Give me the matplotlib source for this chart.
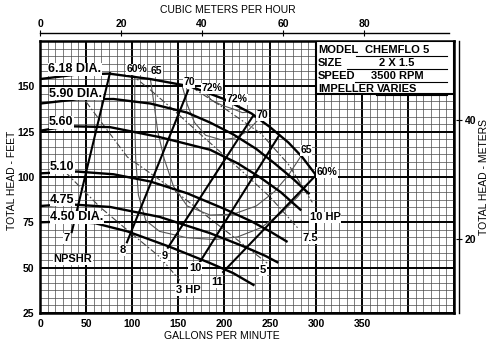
import matplotlib
matplotlib.use("Agg")
import matplotlib.pyplot as plt
from matplotlib.patches import Rectangle
from matplotlib.ticker import MultipleLocator

plt.rcParams['font.family'] = ['Liberation Sans', 'DejaVu Sans']

# head-capacity curves per impeller diameter (gpm, ft)
d618_q = [0, 40, 75, 120, 163, 200, 230, 250, 270, 285, 300]
d618_h = [154, 156.5, 157, 154, 150, 143, 135, 127.5, 119, 111, 101]
d590_q = [0, 40, 80, 120, 160, 185, 210, 235, 255, 275, 292]
d590_h = [140.5, 142.8, 143, 140.5, 135.5, 130, 123.5, 115.5, 107.5, 99, 91]
d560_q = [0, 30, 76, 130, 185, 215, 240, 262, 283]
d560_h = [125.5, 128, 127.5, 122, 115, 107.5, 99.5, 91.5, 82]
d510_q = [0, 40, 80, 120, 160, 200, 230, 250, 268]
d510_h = [102, 103, 101.5, 97.5, 91, 82.5, 75.5, 70, 64.5]
d475_q = [0, 30, 76, 130, 185, 220, 245, 258]
d475_h = [84, 85, 83.5, 78, 69, 62, 56.5, 53]
d450_q = [0, 30, 60, 95, 141, 185, 210, 232]
d450_h = [75, 75.5, 74.5, 70, 61.5, 52.5, 47, 40.5]
heads = [(d618_q, d618_h), (d590_q, d590_h), (d560_q, d560_h),
         (d510_q, d510_h), (d475_q, d475_h), (d450_q, d450_h)]

# NPSHR lines (ft), endpoints
npsh_q = [[34.5, 76], [94.5, 161], [139, 232], [174, 260], [199, 300]]
npsh_h = [[69.6, 157.3], [64, 147.8], [61, 134], [53.3, 123], [47.6, 101]]

# horsepower lines
hp3_q = [28, 65, 95, 130, 152]
hp3_h = [102.5, 83.5, 70.7, 56, 43]
hp5_q = [50, 95, 141, 190, 247]
hp5_h = [141.5, 111, 94.5, 75, 52.5]
hp75_q = [98, 120, 145, 180, 220, 250, 280]
hp75_h = [157, 148, 137, 121, 103, 89, 72]
hp10_q = [165, 200, 240, 270, 296]
hp10_h = [149.5, 138, 124, 107, 86]
hps = [(hp3_q, hp3_h), (hp5_q, hp5_h), (hp75_q, hp75_h), (hp10_q, hp10_h)]

# efficiency contours
e60_q = [103, 103, 104, 107, 115, 130, 160, 190, 215, 240, 262, 280, 299]
e60_h = [155.5, 130, 110, 90, 76, 70, 66.5, 65.5, 67, 72, 80, 89, 101]
e65_q = [120, 124, 128, 135, 145, 160, 185, 210, 235, 255, 270, 283]
e65_h = [154, 140, 125, 110, 95, 84, 79, 79.5, 84, 92, 101, 111]
e70_q = [155, 160, 168, 180, 197, 212, 225, 237]
e70_h = [149.5, 140, 130, 123, 120.5, 121.5, 125, 131.5]
e72_q = [178, 186, 198, 210, 220, 226]
e72_h = [147.5, 142.5, 139.5, 137.5, 135.5, 135.8]
effs = [(e60_q, e60_h), (e65_q, e65_h), (e70_q, e70_h), (e72_q, e72_h)]

dia_labels = [("6.18 DIA.", 8.7, 159.4), ("5.90 DIA.", 9.8, 146), ("5.60", 9.8, 130.2),
              ("5.10", 10.9, 105.4), ("4.75", 10.9, 87.5), ("4.50 DIA.", 10.9, 77.9)]
npsh_labels = [("7", 29.3, 66.3), ("NPSHR", 35.9, 54.7), ("8", 90, 59.7), ("9", 135, 56.4),
               ("10", 168.5, 49.8), ("11", 192, 42)]
hp_labels = [("3 HP", 161, 37.7), ("5", 242.4, 48.7), ("7.5", 293.5, 66.3), ("10 HP", 310, 77.9)]
eff_labels = [("60%", 105, 159.4), ("65", 127, 158.3), ("70", 162, 152.2), ("72%", 187, 148.9),
              ("72%", 214, 142.8), ("70", 242, 134), ("65", 289, 114.8), ("60%", 312, 102.6)]

info_keys = ["MODEL", "SIZE", "SPEED", "IMPELLER"]
info_vals = ["CHEMFLO 5", "2 X 1.5", "3500 RPM", "VARIES"]

GPM_PER_M3H = 4.403
FT_PER_M = 3.2808

fig = plt.figure(figsize=(5, 3.53), dpi=100)
ax = fig.add_axes([0.08, 0.1133, 0.828, 0.7706])
ax.set_xlim(0, 450)
ax.set_ylim(25, 175)

ax.xaxis.set_major_locator(MultipleLocator(50))
ax.xaxis.set_minor_locator(MultipleLocator(50 / 6))
ax.yaxis.set_major_locator(MultipleLocator(25))
ax.yaxis.set_minor_locator(MultipleLocator(25 / 6))
ax.grid(which='minor', color='#4a4a4a', lw=0.5)
ax.grid(which='major', color='black', lw=1.4)
ax.set_axisbelow(True)
ax.tick_params(which='both', length=0)
ax.tick_params(axis='x', pad=4, labelsize=7.5)
ax.tick_params(axis='y', pad=4, labelsize=7.5)
ax.set_xticks(range(0, 451, 50))
ax.set_xticklabels([str(v) if v <= 350 else "" for v in range(0, 451, 50)], fontweight='bold')
ax.set_yticks(range(25, 176, 25))
ax.set_yticklabels([str(v) if v <= 150 else "" for v in range(25, 176, 25)], fontweight='bold')
for s in ax.spines.values():
    s.set_linewidth(1.8)

for q, h in effs:
    ax.plot(q, h, color='#555555', lw=0.8, zorder=3)
for q, h in hps:
    ax.plot(q, h, color='#444444', lw=0.8, ls=(0, (6, 2, 1.5, 2)), zorder=3)
for q, h in zip(npsh_q, npsh_h):
    ax.plot(q, h, color='black', lw=1.5, zorder=4)
for q, h in heads:
    ax.plot(q, h, color='black', lw=1.7, zorder=4)

box = dict(fc='white', ec='none', pad=0.4)
for t, x, y in dia_labels:
    ax.text(x, y, t, ha='left', va='center', fontsize=9, fontweight='bold', bbox=box, zorder=6)
for t, x, y in npsh_labels + hp_labels:
    ax.text(x, y, t, ha='center', va='center', fontsize=8, fontweight='bold', bbox=box, zorder=6)
for t, x, y in eff_labels:
    ax.text(x, y, t, ha='center', va='center', fontsize=7.5, fontweight='bold', bbox=box, zorder=6)

# info box
ax.add_patch(Rectangle((300, 175 - 7 * 25 / 6), 150, 7 * 25 / 6, fc='white', ec='black', lw=1.5, zorder=7))
ul_start = [343, 334, 342, 365]
for i, (k, v) in enumerate(zip(info_keys, info_vals)):
    yc = 169.8 - i * 7.17
    ax.text(302, yc, k, ha='left', va='center', fontsize=8, fontweight='bold', zorder=8)
    ax.text(388, yc, v, ha='center', va='center', fontsize=8, fontweight='bold', zorder=8)
    ax.plot([ul_start[i], 442], [yc - 3.0, yc - 3.0], color='black', lw=0.8, zorder=8)

# secondary scales
top = ax.secondary_xaxis(1.03, functions=(lambda x: x / GPM_PER_M3H, lambda x: x * GPM_PER_M3H))
top.set_xticks([0, 20, 40, 60, 80])
top.tick_params(direction='inout', length=4, labelsize=7.5, pad=1)
for lab in top.get_xticklabels():
    lab.set_fontweight('bold')
top.spines['top'].set_bounds(0, 101)
top.spines['top'].set_linewidth(1.0)

right = ax.secondary_yaxis(1.012, functions=(lambda y: y / FT_PER_M, lambda y: y * FT_PER_M))
right.set_yticks([20, 40])
right.tick_params(direction='inout', length=4, labelsize=7.5, pad=2)
for lab in right.get_yticklabels():
    lab.set_fontweight('bold')
right.spines['right'].set_linewidth(1.0)

cond = ['Liberation Sans Narrow', 'Liberation Sans']
fig.text(228 / 500, 1 - 10 / 353, "CUBIC METERS PER HOUR", ha='center', va='center', fontsize=7.5, family=cond)
fig.text(221.5 / 500, 1 - 336 / 353, "GALLONS PER MINUTE", ha='center', va='center', fontsize=7.5, family=cond)
fig.text(12 / 500, 1 - 180 / 353, "TOTAL HEAD - FEET", ha='center', va='center', rotation=90, fontsize=7.5, family=cond)
fig.text(484 / 500, 1 - 177 / 353, "TOTAL HEAD - METERS", ha='center', va='center', rotation=90, fontsize=7.5, family=cond)

fig.savefig("out.png", dpi=100)
